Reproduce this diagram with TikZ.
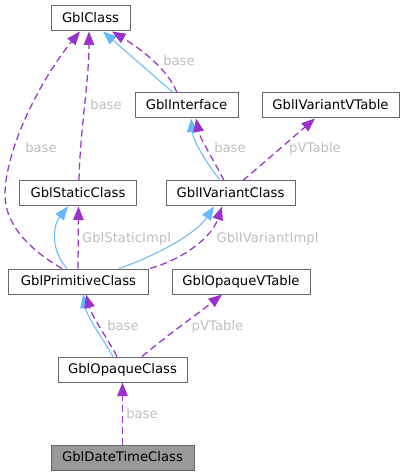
\documentclass[tikz,border=0pt]{standalone}
\usepackage{fontspec}
\setmainfont{DejaVu Sans}
\usetikzlibrary{arrows.meta}
\definecolor{nodeborder}{HTML}{666666}
\definecolor{inhblue}{HTML}{63B8FF}
\definecolor{usepurple}{HTML}{9A32CD}
\definecolor{lblgrey}{HTML}{BEBEBE}
\definecolor{curfill}{HTML}{999999}
\tikzset{
  cls/.style={draw=nodeborder, line width=1bp, fill=white, rectangle, inner sep=0pt,
    minimum height=25bp, text height=9.6bp, text depth=2.2bp,
    font=\fontsize{13.2bp}{15bp}\selectfont},
  headtip/.style={-{Triangle[length=13.5bp 0 0,width=10.5bp 0 0]}},
  inh/.style={draw=inhblue, line width=1bp, headtip, inhblue},
  usage/.style={draw=usepurple, line width=1.25bp, dash pattern=on 7bp off 4bp,
    headtip, usepurple},
  lbl/.style={text=lblgrey, inner sep=0pt, anchor=base, font=\fontsize{13.2bp}{15bp}\selectfont}
}
\begin{document}
\begin{tikzpicture}[x=1bp,y=-1bp]
\useasboundingbox (0,0) rectangle (405,476);
% nodes
\node[cls, minimum width=79bp]  (gc)  at (90.5,18.5)  {GblClass};
\node[cls, minimum width=103bp] (gi)  at (186.5,105.5) {GblInterface};
\node[cls, minimum width=137bp] (gvt) at (330.5,105.5) {GblIVariantVTable};
\node[cls, minimum width=116bp] (gs)  at (78,193.5)    {GblStaticClass};
\node[cls, minimum width=129bp] (gv)  at (230.5,193.5) {GblIVariantClass};
\node[cls, minimum width=139bp] (gp)  at (78.5,281.5)  {GblPrimitiveClass};
\node[cls, minimum width=138bp] (got) at (241,281.5)   {GblOpaqueVTable};
\node[cls, minimum width=129bp] (go)  at (122.5,369.5) {GblOpaqueClass};
\node[cls, minimum width=143bp, fill=curfill] (gd) at (122.5,457.5) {GblDateTimeClass};

% GblInterface -> GblClass
\draw[inh] ([xshift=-13.5bp]gi.north) -- ([xshift=12.5bp]gc.south);
\draw[usage] ([xshift=-9.5bp]gi.north) .. controls +(-10,-25) and +(25,15) .. ([xshift=21.5bp]gc.south);
\node[lbl] (l1) at (179,66) {base};

% GblStaticClass -> GblClass
\draw[usage] ([xshift=1bp]gs.north) .. controls +(1,-50) and +(0,50) .. ([xshift=-1.5bp]gc.south);
\node[lbl] (l2) at (106,110) {base};

% GblPrimitiveClass -> GblClass
\draw[usage] ([xshift=-16.5bp]gp.north) .. controls (30,250) and (5,225) .. (5,195)
  .. controls (5,150) and (40,80) .. ([xshift=-10.5bp]gc.south);
\node[lbl] (l3) at (41,153) {base};

% GblIVariantClass -> GblInterface
\draw[inh] ([xshift=-10.5bp]gv.north) .. controls +(-15,-20) and +(2,22) .. ([xshift=4.5bp]gi.south);
\draw[usage] ([xshift=-6.5bp]gv.north) .. controls +(-10,-20) and +(4,20) .. ([xshift=9.5bp]gi.south);
\node[lbl] (l4) at (230,153) {base};

% GblIVariantClass -> GblIVariantVTable
\draw[usage] ([xshift=12.5bp]gv.north) -- ([xshift=-15.5bp]gvt.south);
\node[lbl] (l5) at (315,153) {pVTable};

% GblPrimitiveClass -> GblStaticClass
\draw[inh] ([xshift=-11.5bp]gp.north) .. controls +(-17,-19) and +(-15,19) .. ([xshift=-10bp]gs.south);
\draw[usage] ([xshift=-0.5bp]gp.north) -- ([xshift=0.5bp]gs.south);
\node[lbl] (l6) at (126.5,242) {GblStaticImpl};

% GblPrimitiveClass -> GblIVariantClass
\draw[inh] ([xshift=40.5bp]gp.north) .. controls +(40,-14) and +(-18,27) .. ([xshift=-16.5bp]gv.south);
\draw[usage] ([xshift=71.5bp]gp.north) .. controls +(35,-10) and +(-10,30) .. ([xshift=-8.5bp]gv.south);
\node[lbl] (l7) at (267.5,242) {GblIVariantImpl};

% GblOpaqueClass -> GblPrimitiveClass
\draw[inh] ([xshift=-9.5bp]go.north) .. controls +(-13,-22) and +(4,22) .. ([xshift=4.5bp]gp.south);
\draw[usage] ([xshift=-5.5bp]go.north) .. controls +(-9,-17) and +(6,22) .. ([xshift=7.5bp]gp.south);
\node[lbl] (l8) at (123,330) {base};

% GblOpaqueClass -> GblOpaqueVTable
\draw[usage] ([xshift=19.5bp]go.north) .. controls +(30,-25) and +(-25,20) .. ([xshift=-19bp]got.south);
\node[lbl] (l9) at (217.5,330) {pVTable};

% GblDateTimeClass -> GblOpaqueClass
\draw[usage] (gd.north) -- (go.south);
\node[lbl] (l10) at (142,418) {base};
\end{tikzpicture}
\end{document}
